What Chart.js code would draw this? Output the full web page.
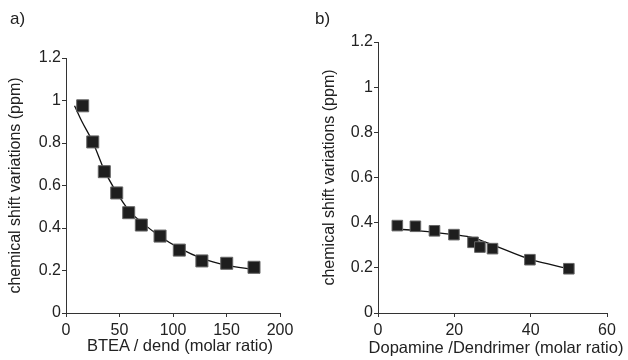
<!DOCTYPE html>
<html>
<head>
<meta charset="utf-8">
<script src="https://cdn.jsdelivr.net/npm/chart.js@4"></script>
<style>
  html, body { margin: 0; padding: 0; background: #fff; }
  #wrap { position: relative; width: 628px; height: 360px; overflow: hidden; font-family: "Liberation Sans", Arial, sans-serif; }
  .panel { position: absolute; top: 0; width: 314px; height: 360px; }
  .lbl { position: absolute; font-size: 17px; color: #222; }
  .xt { position: absolute; font-size: 16.5px; color: #222; white-space: nowrap; transform: translateX(-50%); line-height: 19px; }
</style>
</head>
<body>
<div id="wrap">
  <div class="panel" style="left:0"><canvas id="ca" width="314" height="360"></canvas></div>
  <div class="panel" style="left:314px"><canvas id="cb" width="314" height="360"></canvas></div>
  <div class="lbl" style="left:10px; top:9px">a)</div>
  <div class="lbl" style="left:315px; top:9px">b)</div>
  <div class="xt" id="xta" style="left:180px; top:336px"></div>
  <div class="xt" id="xtb" style="left:496px; top:338px"></div>
</div>
<script>
// ---- Panel a) data ----
const bteaRatio = [15.6, 25, 35.8, 47.4, 58.6, 70.4, 87.9, 105.9, 127, 150.2, 175.7];
const bteaShift = [0.975, 0.805, 0.665, 0.565, 0.472, 0.414, 0.362, 0.296, 0.245, 0.234, 0.215];
const bteaFitX = [8, 15, 25, 36, 47, 60, 70, 88, 106, 127, 150, 175];
const bteaFitY = [0.975, 0.9, 0.805, 0.67, 0.57, 0.475, 0.43, 0.36, 0.305, 0.257, 0.225, 0.205];
const aXTicks = [0, 50, 100, 150, 200];

// ---- Panel b) data ----
const dopRatio = [5.06, 9.8, 14.8, 19.9, 24.9, 26.7, 30, 39.8, 50];
const dopShift = [0.387, 0.384, 0.364, 0.347, 0.313, 0.292, 0.285, 0.236, 0.196];
const dopFitX = [4.5, 10, 20, 25, 30, 40, 50];
const dopFitY = [0.372, 0.365, 0.347, 0.333, 0.302, 0.237, 0.196];
const bXTicks = [0, 20, 40, 60];

const yTicks = [0, 0.2, 0.4, 0.6, 0.8, 1, 1.2];
const yTitle = 'chemical shift variations (ppm)';
const aXTitle = 'BTEA / dend (molar ratio)';
const bXTitle = 'Dopamine /Dendrimer (molar ratio)';

document.getElementById('xta').textContent = aXTitle;
document.getElementById('xtb').textContent = bXTitle;

const FONT = '"Liberation Sans", Arial, sans-serif';
const TXT = '#222';
const AX = '#333';

function toPts(xs, ys) { return xs.map((x, i) => ({ x: x, y: ys[i] })); }

function makeChart(id, pts, fit, xMax, xTicks, pad, yW, xH, yTitlePad, r) {
  return new Chart(document.getElementById(id), {
    type: 'scatter',
    data: {
      datasets: [
        {
          data: fit, showLine: true, pointRadius: 0, borderColor: '#111', borderWidth: 1.3,
          cubicInterpolationMode: 'monotone', fill: false, order: 2
        },
        {
          data: pts, showLine: false, pointStyle: 'rect', pointRadius: r,
          backgroundColor: '#1e1e1e', borderColor: '#666', borderWidth: 1, order: 1
        }
      ]
    },
    options: {
      responsive: false, animation: false, devicePixelRatio: 1,
      layout: { padding: pad },
      plugins: { legend: { display: false }, tooltip: { enabled: false } },
      scales: {
        x: {
          type: 'linear', min: 0, max: xMax,
          afterBuildTicks: s => { s.ticks = xTicks.map(v => ({ value: v })); },
          afterFit: s => { s.height = xH; },
          ticks: { color: TXT, font: { family: FONT, size: 16 }, padding: 4, maxRotation: 0,
                   callback: v => String(v) },
          grid: { drawOnChartArea: false, drawTicks: true, tickLength: 4, color: AX },
          border: { color: AX, width: 1 },
          title: { display: false }
        },
        y: {
          type: 'linear', min: 0, max: 1.2,
          afterBuildTicks: s => { s.ticks = yTicks.map(v => ({ value: v })); },
          afterFit: s => { s.width = yW; },
          ticks: { color: TXT, font: { family: FONT, size: 16 }, padding: 1,
                   callback: v => String(Math.round(v * 10) / 10) },
          grid: { drawOnChartArea: false, drawTicks: true, tickLength: 4, color: AX },
          border: { color: AX, width: 1 },
          title: { display: true, text: yTitle, color: TXT, font: { family: FONT, size: 16 }, padding: yTitlePad }
        }
      }
    }
  });
}

makeChart('ca', toPts(bteaRatio, bteaShift), toPts(bteaFitX, bteaFitY), 200, aXTicks,
  { left: 0, right: 34, top: 58, bottom: 0 }, 66, 47, { top: 6, bottom: 6 }, 8.5);
makeChart('cb', toPts(dopRatio, dopShift), toPts(dopFitX, dopFitY), 60, bXTicks,
  { left: 0, right: 21, top: 42, bottom: 0 }, 64, 47, { top: 6, bottom: 6 }, 7.5);
</script>
</body>
</html>
